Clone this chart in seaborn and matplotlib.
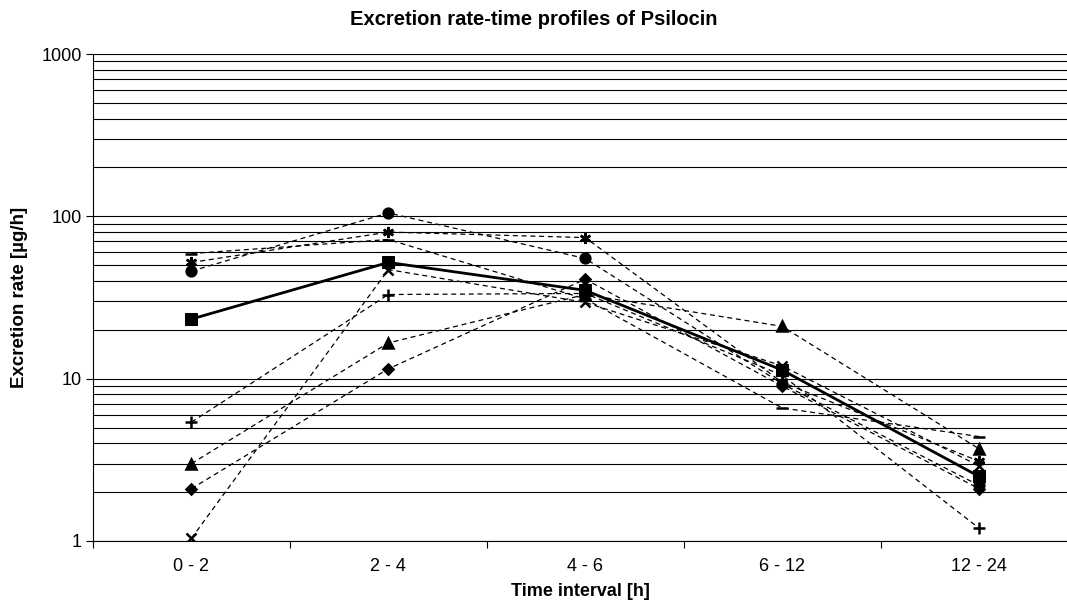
import matplotlib.pyplot as plt
import matplotlib.ticker as mticker
import seaborn as sns
import numpy as np

plt.switch_backend('Agg')
sns.set_theme(style="white")
plt.rcParams['font.family'] = ['Liberation Sans', 'DejaVu Sans']
plt.rcParams['text.color'] = 'black'
plt.rcParams['axes.labelcolor'] = 'black'
plt.rcParams['xtick.color'] = 'black'
plt.rcParams['ytick.color'] = 'black'

# Datos
intervalos = ['0 - 2', '2 - 4', '4 - 6', '6 - 12', '12 - 24']
rombo = [2.1, 11.5, 41.0, 9.0, 2.1]
triangulo = [3.0, 16.6, 33.0, 21.0, 3.7]
cruz_x = [1.04, 47.0, 29.5, 12.0, 2.9]
estrella = [52.0, 80.0, 74.0, 9.5, 3.1]
circulo = [46.0, 105.0, 55.0, 9.3, 2.2]
mas = [5.4, 33.0, 33.5, 10.5, 1.2]
guion = [59.0, 72.0, 31.0, 6.6, 4.4]
media = [23.3, 52.0, 35.0, 11.3, 2.5]

series = [
    (rombo, 'D', 5),
    (triangulo, '^', 7),
    (cruz_x, 'x', 7),
    (estrella, (6, 2, 0), 8),
    (circulo, 'o', 7),
    (mas, '+', 8),
    (guion, '_', 9),
]

fig = plt.figure(figsize=(10.67, 6.05), dpi=100)
ax = fig.add_axes([0.0872, 0.1058, 0.9128, 0.8049])

pos = np.arange(len(intervalos))
for valores, marcador, tam in series:
    sns.lineplot(x=pos, y=valores, ax=ax, color='black', linewidth=0.9,
                 linestyle=(0, (4, 3)), marker=marcador, markersize=tam,
                 markeredgewidth=1.8, markeredgecolor='black',
                 markerfacecolor='black')

sns.lineplot(x=pos, y=media, ax=ax, color='black', linewidth=2.0,
             marker='s', markersize=8, markeredgecolor='black',
             markerfacecolor='black')

ax.set_yscale('log')
ax.set_ylim(1, 1000)
ax.set_xlim(-0.5, 4.447)

ax.yaxis.set_major_locator(mticker.FixedLocator([1, 10, 100, 1000]))
ax.yaxis.set_major_formatter(mticker.FuncFormatter(lambda v, p: f'{int(v)}'))
ax.yaxis.set_minor_locator(mticker.LogLocator(base=10, subs=np.arange(2, 10)))
ax.yaxis.set_minor_formatter(mticker.NullFormatter())
ax.grid(True, which='both', axis='y', color='black', linewidth=0.8)
ax.grid(False, axis='x')

ax.set_xticks(pos)
ax.set_xticklabels(intervalos)
ax.set_xticks(np.arange(-0.5, 4.5, 1.0), minor=True)
ax.tick_params(axis='x', which='major', length=0, labelsize=13, pad=12)
ax.tick_params(axis='x', which='minor', length=5, width=0.8, color='black',
               direction='out', bottom=True)
ax.tick_params(axis='y', which='major', length=5, width=0.8, color='black',
               direction='out', left=True, labelsize=13, pad=3)
ax.tick_params(axis='y', which='minor', length=0)

for lado in ['top', 'right']:
    ax.spines[lado].set_visible(False)
for lado in ['left', 'bottom']:
    ax.spines[lado].set_color('black')
    ax.spines[lado].set_linewidth(0.8)

ax.set_xlabel('Time interval [h]', fontsize=13, fontweight='bold', labelpad=6)
ax.set_ylabel('Excretion rate [\u00b5g/h]', fontsize=13.5, fontweight='bold', labelpad=10)
fig.text(0.5, 0.968, 'Excretion rate-time profiles of Psilocin', ha='center',
         va='center', fontsize=14.5, fontweight='bold')

plt.savefig('out.png', dpi=100)
plt.close()
